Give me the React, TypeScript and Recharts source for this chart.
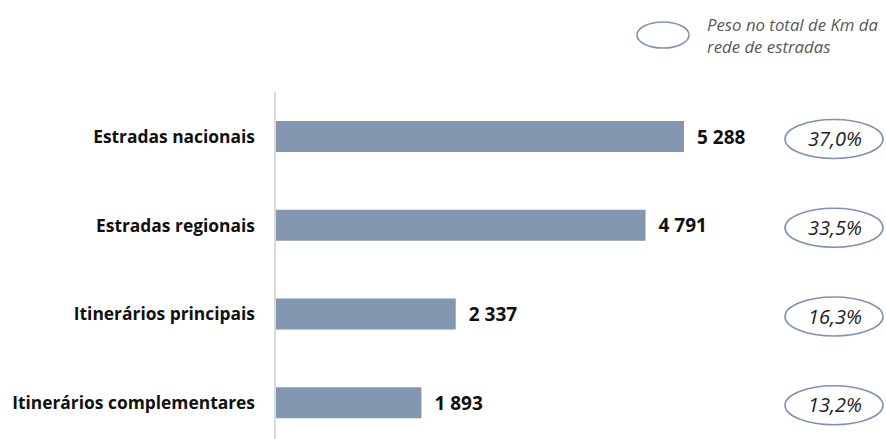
import React from 'react';
import { BarChart, Bar, XAxis, YAxis, LabelList } from 'recharts';

const categories = ['Estradas nacionais', 'Estradas regionais', 'Itinerários principais', 'Itinerários complementares'];
const kmValues = [5288, 4791, 2337, 1893];
const kmLabels = ['5 288', '4 791', '2 337', '1 893'];
const shareLabels = ['37,0%', '33,5%', '16,3%', '13,2%'];
const legendLines = ['Peso no total de Km da', 'rede de estradas'];

const data = categories.map((name, i) => ({
  name,
  km: kmValues[i],
  kmLabel: kmLabels[i],
  share: shareLabels[i],
}));

const FONT = '"Open Sans", Lato, sans-serif';
const BAR_COLOR = '#8497B0';
const ELLIPSE_STROKE = '#7F93B5';

const CategoryTick = (props: any) => {
  const { x, y, payload } = props;
  return (
    <text x={x} y={y} dy={6.5} textAnchor="end" fontFamily={FONT} fontWeight={700} fontSize={17.4} fill="#111">
      {payload.value}
    </text>
  );
};

const ValueLabel = (props: any) => {
  const { x, y, width, height, value } = props;
  return (
    <text x={x + width + 13} y={y + height / 2} dy={7} fontFamily={FONT} fontWeight={700} fontSize={19} fill="#111">
      {value}
    </text>
  );
};

const ShareLabel = (props: any) => {
  const { y, height, value } = props;
  const cx = 834;
  const cy = y + height / 2 + 2.5;
  return (
    <g>
      <ellipse cx={cx} cy={cy} rx={49} ry={19.5} fill="#fff" stroke={ELLIPSE_STROKE} strokeWidth={1.6} />
      <text x={cx + 1} y={cy} dy={7} textAnchor="middle" fontFamily={FONT} fontStyle="italic" fontSize={20} fill="#222">
        {value}
      </text>
    </g>
  );
};

export default function App() {
  return (
    <div style={{ position: 'fixed', top: 0, left: 0, width: 886, height: 439, overflow: 'hidden', background: '#fff' }}>
      <BarChart
        width={886}
        height={455}
        data={data}
        layout="vertical"
        margin={{ top: 92, right: 0, bottom: 8, left: 0 }}
      >
        <XAxis type="number" hide domain={[0, 7900]} />
        <YAxis
          type="category"
          dataKey="name"
          width={275}
          axisLine={{ stroke: '#DADADA', strokeWidth: 2 }}
          tickLine={false}
          tickSize={0}
          tickMargin={20}
          tick={<CategoryTick />}
        />
        <Bar dataKey="km" fill={BAR_COLOR} barSize={31} isAnimationActive={false}>
          <LabelList dataKey="kmLabel" content={<ValueLabel />} />
          <LabelList dataKey="share" content={<ShareLabel />} />
        </Bar>
        <g>
          <ellipse cx={663} cy={35} rx={26} ry={13} fill="#fff" stroke={ELLIPSE_STROKE} strokeWidth={1.6} />
          {legendLines.map((line, i) => (
            <text key={i} x={707} y={31 + i * 22} fontFamily={FONT} fontStyle="italic" fontSize={16.8} fill="#595959">
              {line}
            </text>
          ))}
        </g>
      </BarChart>
    </div>
  );
}
